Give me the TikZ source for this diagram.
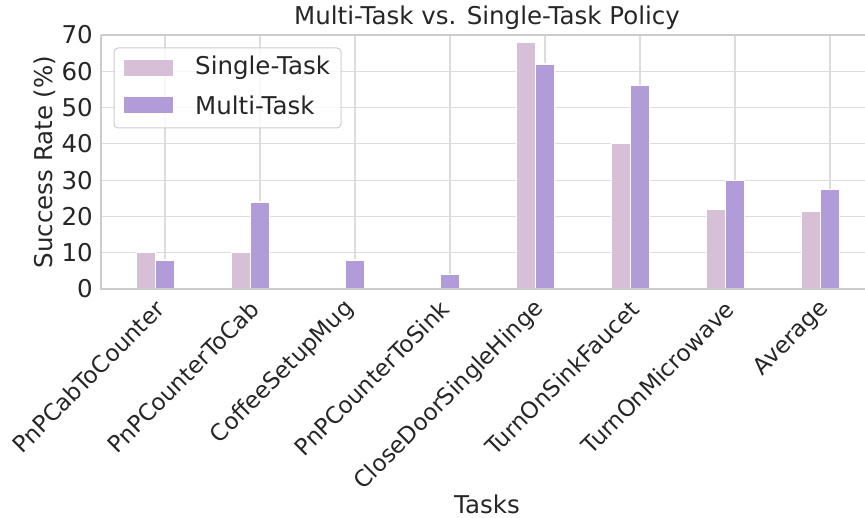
\documentclass[tikz,border=0pt]{standalone}
\usepackage{fontspec}
\setmainfont{DejaVu Sans}
\usepackage{tikz}
\usetikzlibrary{positioning,calc}
\definecolor{singlecol}{HTML}{D8BFD8}
\definecolor{multicol}{HTML}{B19CD9}
\definecolor{gridcol}{HTML}{DCDCDC}
\definecolor{spinecol}{HTML}{CCCCCC}
\definecolor{txtcol}{HTML}{262626}

\begin{document}
\begin{tikzpicture}[x=1pt,y=1pt,font=\fontsize{24.5}{29}\selectfont,text=txtcol,
  gridline/.style={gridcol,line width=1.1pt},
  spine/.style={spinecol,line width=1.3pt},
  barbox/.style={draw=white,line width=1.2pt},
  xlab/.style={anchor=east,rotate=45,inner sep=0pt,font=\fontsize{23}{27}\selectfont},
  ylab/.style={anchor=east,inner sep=0pt}]
\useasboundingbox (0,0) rectangle (865,517);
\coordinate (O) at (101,228);
\coordinate (T) at (101,482);
\coordinate (R) at (865,228);
\coordinate (RT) at (865,482);
% grid
\foreach \v in {10,20,...,60}
  \draw[gridline] (101,{228+3.6286*\v}) -- (865,{228+3.6286*\v});
\foreach \i in {0,...,7}
  \draw[gridline] ({165+95*\i},228) -- ({165+95*\i},482);
% bars
\foreach \i/\s/\m in {0/10/8,1/10/24,2/0/8,3/0/4,4/68/62,5/40/56,6/22/30,7/21.43/27.43}{
  \pgfmathsetmacro\cx{165+95*\i}
  \filldraw[barbox,fill=singlecol] ({\cx-28.5},228) rectangle ({\cx-9.5},{228+3.6286*\s});
  \filldraw[barbox,fill=multicol] ({\cx-9.5},228) rectangle ({\cx+9.5},{228+3.6286*\m});
}
% spines
\draw[spine] (T) -- (O) -- (R);
\draw[spine] (T) -- (RT);
% y ticks
\foreach \v in {0,10,...,70}
  \node[ylab] (y\v) at (93,{228+3.6286*\v}) {\v};
% x ticks
\foreach \i/\lab in {0/PnPCabToCounter,1/PnPCounterToCab,2/CoffeeSetupMug,3/PnPCounterToSink,4/CloseDoorSingleHinge,5/TurnOnSinkFaucet,6/TurnOnMicrowave,7/Average}
  \node[xlab] (x\i) at ({165+95*\i-5},212) {\lab};
% labels
\node (title) at (487,499) {Multi-Task vs. Single-Task Policy};
\node[anchor=base] (xname) at (487,4) {Tasks};
\node[rotate=90] (yname) at (45,355) {Success Rate (\%)};
% legend
\draw[spinecol,line width=1pt,rounded corners=4pt,fill=white,fill opacity=0.8] (114,389) rectangle (341,469);
\fill[singlecol] (124,441) rectangle (173,457);
\fill[multicol] (124,404) rectangle (173,420);
\node[anchor=west,inner sep=0pt] (lsingle) at (195,449) {Single-Task};
\node[anchor=west,inner sep=0pt] (lmulti) at (195,412) {Multi-Task};
\end{tikzpicture}
\end{document}
